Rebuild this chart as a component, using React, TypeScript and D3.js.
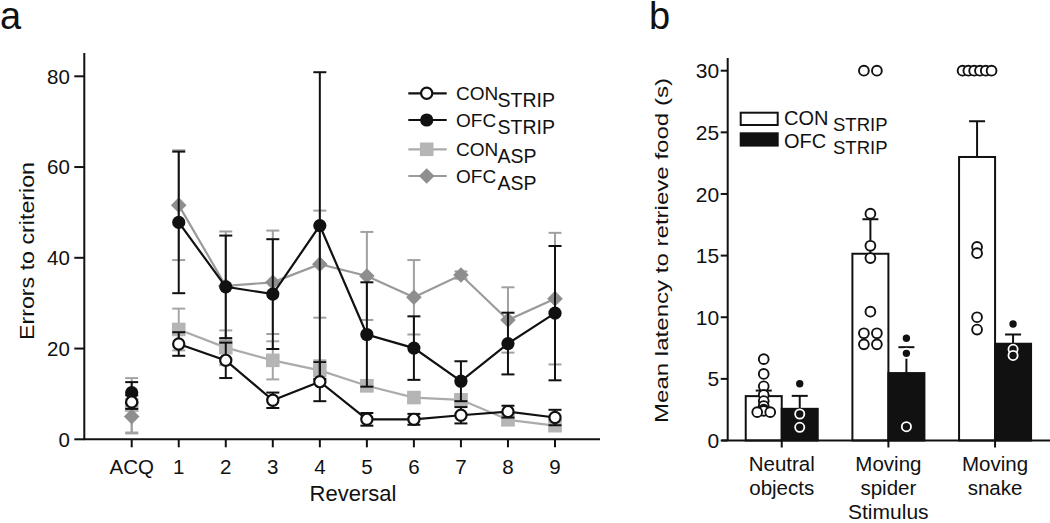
import React from 'react';
import * as d3 from 'd3';

// ---------- Panel a data ----------
const reversalLabels = ["ACQ", "1", "2", "3", "4", "5", "6", "7", "8", "9"];
const conStripMean = [8.2, 21.0, 17.4, 8.6, 12.7, 4.4, 4.4, 5.3, 6.1, 4.8];
const conStripSem = [1.5, 2.6, 3.9, 1.7, 4.3, 1.4, 1.2, 1.8, 1.3, 1.7];
const ofcStripMean = [10.3, 47.8, 33.6, 32.0, 47.1, 23.1, 20.1, 12.8, 21.1, 27.8];
const ofcStripSem = [2.3, 15.6, 11.3, 12.1, 33.8, 11.5, 7.0, 4.4, 6.8, 14.8];
const conAspMean = [7.5, 24.2, 20.2, 17.4, 15.2, 11.8, 9.2, 8.7, 4.3, 3.0];
const conAspSem = [6.0, 4.6, 3.8, 4.2, 2.2, 1.2, 1.0, 1.0, 1.0, 1.0];
const ofcAspMean = [5.0, 51.6, 33.8, 34.6, 38.6, 36.0, 31.3, 36.2, 26.3, 31.0];
const ofcAspSem = [3.7, 12.1, 12.0, 11.4, 11.8, 9.7, 8.2, 0.8, 7.2, 14.5];
const yTicksA = [0, 20, 40, 60, 80];

// ---------- Panel b data ----------
const stimulusLines = [["Neutral", "objects"], ["Moving", "spider"], ["Moving", "snake"]];
const stimulusKeys = ["neutral", "spider", "snake"];
const conMean = [3.6, 15.15, 23.0];
const conSem = [0.45, 2.8, 2.9];
const ofcMean = [2.57, 5.47, 7.85];
const ofcSem = [1.05, 2.1, 0.75];
const conPoints = [
  [6.6, 5.4, 4.4, 3.7, 3.2, 2.8, 2.5, 2.4, 2.3, 2.3],
  [30, 30, 18.4, 15.8, 14.8, 10.45, 8.7, 8.7, 7.8, 7.8],
  [30, 30, 30, 30, 30, 30, 15.7, 15.2, 10.0, 9.0],
];
const ofcPoints = [
  [4.6, 2.15, 1.07],
  [8.3, 7.07, 1.12],
  [9.45, 7.4, 6.9],
];
const yTicksB = [0, 5, 10, 15, 20, 25, 30];

const FONT = "'Liberation Sans', Arial, Helvetica, sans-serif";

function spreadOffsets(vals: number[]): number[] {
  const groups = d3.group(vals.map((v, i) => ({ v, i })), (d) => d.v);
  const off = new Array(vals.length).fill(0);
  groups.forEach((arr) => {
    const n = arr.length;
    const step = n <= 2 ? 13 : 5.8;
    arr.forEach((d, k) => {
      off[d.i] = (k - (n - 1) / 2) * step;
    });
  });
  return off;
}

function diamondPath(x: number, y: number, s: number) {
  return `M${x},${y - s}L${x + s},${y}L${x},${y + s}L${x - s},${y}Z`;
}

export default function App() {
  const W = 1050, H = 523;

  const xA = d3.scalePoint<string>().domain(reversalLabels).range([131.7, 555]);
  const yA = d3.scaleLinear().domain([0, 80]).range([439.3, 76.3]);
  const axisLeftA = 84.3;
  const lineRev = d3.line<number>().x((_, i) => xA(reversalLabels[i + 1])!).y((d) => yA(d));

  type Series = { key: string; mean: number[]; sem: number[]; color: string; errColor: string; marker: string };
  const series: Series[] = [
    { key: "conAsp", mean: conAspMean, sem: conAspSem, color: "#ababab", errColor: "#a6a6a6", marker: "square" },
    { key: "ofcAsp", mean: ofcAspMean, sem: ofcAspSem, color: "#9a9a9a", errColor: "#a0a0a0", marker: "diamond" },
    { key: "ofcStrip", mean: ofcStripMean, sem: ofcStripSem, color: "#111", errColor: "#111", marker: "circleFilled" },
    { key: "conStrip", mean: conStripMean, sem: conStripSem, color: "#111", errColor: "#111", marker: "circleOpen" },
  ];

  const marker = (type: string, x: number, y: number, key: string) => {
    if (type === "square") return <rect key={key} x={x - 6.8} y={y - 6.8} width={13.6} height={13.6} fill="#b5b5b5" />;
    if (type === "diamond") return <path key={key} d={diamondPath(x, y, 7.8)} fill="#8e8e8e" />;
    if (type === "circleFilled") return <circle key={key} cx={x} cy={y} r={6.6} fill="#111" />;
    return <circle key={key} cx={x} cy={y} r={5.6} fill="#fff" stroke="#111" strokeWidth={2.2} />;
  };

  const xB = d3.scaleBand<string>().domain(stimulusKeys).range([728.4, 1048.4]).padding(0);
  const yB = d3.scaleLinear().domain([0, 30]).range([440.5, 70.7]);
  const barW = 36;
  const axisLeftB = 727.7;

  const legendA = [
    { main: "CON", sub: "STRIP", type: "circleOpen", color: "#111", y: 93.3 },
    { main: "OFC", sub: "STRIP", type: "circleFilled", color: "#111", y: 120 },
    { main: "CON", sub: "ASP", type: "square", color: "#ababab", y: 149.3 },
    { main: "OFC", sub: "ASP", type: "diamond", color: "#9a9a9a", y: 176 },
  ];

  return (
    <svg width={W} height={H} style={{ position: "absolute", left: 0, top: 0, display: "block", background: "#fff" }} fontFamily={FONT}>
      <rect x={0} y={0} width={W} height={H} fill="#fff" />
      {/* ================= Panel a ================= */}
      <text x={0} y={29} fontSize={38} fill="#111">a</text>
      <line x1={axisLeftA} x2={axisLeftA} y1={53} y2={yA(0)} stroke="#111" strokeWidth={2} />
      {yTicksA.map((t) => (
        <g key={t}>
          <line x1={axisLeftA - 10} x2={axisLeftA} y1={yA(t)} y2={yA(t)} stroke="#111" strokeWidth={2} />
          <text x={axisLeftA - 14.5} y={yA(t)} dy="0.36em" textAnchor="end" fontSize={20.5} fill="#111">{t}</text>
        </g>
      ))}
      <line x1={axisLeftA - 1} x2={600} y1={yA(0)} y2={yA(0)} stroke="#111" strokeWidth={2} />
      {reversalLabels.map((l) => (
        <g key={l}>
          <line x1={xA(l)} x2={xA(l)} y1={yA(0)} y2={yA(0) + 8} stroke="#111" strokeWidth={2} />
          <text x={xA(l)} y={473.5} textAnchor="middle" fontSize={20.5} fill="#111">{l}</text>
        </g>
      ))}
      <text x={353} y={501} textAnchor="middle" fontSize={22} fill="#111">Reversal</text>
      <text transform={`translate(34,251) rotate(-90)`} textAnchor="middle" fontSize={21} textLength={178} lengthAdjust="spacingAndGlyphs" fill="#111">Errors to criterion</text>

      {series.map((s) => (
        <g key={s.key}>
          {s.mean.map((m, i) => {
            const x = xA(reversalLabels[i])!;
            const hi = yA(m + s.sem[i]);
            const lo = yA(Math.max(0, m - s.sem[i]));
            return (
              <g key={i}>
                <line x1={x} x2={x} y1={hi} y2={lo} stroke={s.errColor} strokeWidth={2} />
                <line x1={x - 6.5} x2={x + 6.5} y1={hi} y2={hi} stroke={s.errColor} strokeWidth={2} />
                <line x1={x - 6.5} x2={x + 6.5} y1={lo} y2={lo} stroke={s.errColor} strokeWidth={2} />
              </g>
            );
          })}
          <path d={lineRev(s.mean.slice(1)) || ""} fill="none" stroke={s.color} strokeWidth={2.2} />
          {s.mean.map((m, i) => marker(s.marker, xA(reversalLabels[i])!, yA(m), s.key + i))}
        </g>
      ))}

      {legendA.map((l) => (
        <g key={l.main + l.sub}>
          <line x1={408.3} x2={446.7} y1={l.y} y2={l.y} stroke={l.color} strokeWidth={2.2} />
          {marker(l.type, 426.7, l.y, "lg" + l.main + l.sub)}
          <text x={456} y={l.y + 6.5} fontSize={19} fill="#111">{l.main}</text>
          <text x={497.5} y={l.y + 13.5} fontSize={19.5} fill="#111">{l.sub}</text>
        </g>
      ))}

      {/* ================= Panel b ================= */}
      <text x={649} y={29} fontSize={38} fill="#111">b</text>
      {stimulusKeys.map((k, i) => {
        const c = xB(k)! + xB.bandwidth() / 2;
        return (
          <g key={k}>
            <rect x={c - barW} y={yB(conMean[i])} width={barW} height={yB(0) - yB(conMean[i])} fill="#fff" stroke="#111" strokeWidth={2} />
            <rect x={c} y={yB(ofcMean[i])} width={barW} height={yB(0) - yB(ofcMean[i])} fill="#111" stroke="#111" strokeWidth={2} />
            <line x1={c - barW / 2} x2={c - barW / 2} y1={yB(conMean[i])} y2={yB(conMean[i] + conSem[i])} stroke="#111" strokeWidth={2} />
            <line x1={c - barW / 2 - 8} x2={c - barW / 2 + 8} y1={yB(conMean[i] + conSem[i])} y2={yB(conMean[i] + conSem[i])} stroke="#111" strokeWidth={2} />
            <line x1={c + barW / 2} x2={c + barW / 2} y1={yB(ofcMean[i])} y2={yB(ofcMean[i] + ofcSem[i])} stroke="#111" strokeWidth={2} />
            <line x1={c + barW / 2 - 8} x2={c + barW / 2 + 8} y1={yB(ofcMean[i] + ofcSem[i])} y2={yB(ofcMean[i] + ofcSem[i])} stroke="#111" strokeWidth={2} />
            {(() => {
              const off = spreadOffsets(conPoints[i]);
              return conPoints[i].map((v, j) => (
                <circle key={"c" + j} cx={c - barW / 2 + off[j]} cy={yB(v)} r={4.9} fill="#fff" stroke="#111" strokeWidth={1.9} />
              ));
            })()}
            {ofcPoints[i].map((v, j) => (
              <circle key={"o" + j} cx={c + barW / 2} cy={yB(v)} r={4.6} fill="#111" stroke="#fff" strokeWidth={1.8} />
            ))}
          </g>
        );
      })}
      <line x1={axisLeftB} x2={axisLeftB} y1={58} y2={yB(0)} stroke="#111" strokeWidth={2} />
      {yTicksB.map((t) => (
        <g key={t}>
          <line x1={axisLeftB - 7} x2={axisLeftB} y1={yB(t)} y2={yB(t)} stroke="#111" strokeWidth={2} />
          <text x={axisLeftB - 8.5} y={yB(t)} dy="0.36em" textAnchor="end" fontSize={21} fill="#111">{t}</text>
        </g>
      ))}
      <line x1={721.7} x2={1050} y1={yB(0)} y2={yB(0)} stroke="#111" strokeWidth={2} />
      {stimulusKeys.map((k, i) => {
        const c = xB(k)! + xB.bandwidth() / 2;
        return (
          <g key={k}>
            <line x1={c} x2={c} y1={yB(0)} y2={yB(0) + 7} stroke="#111" strokeWidth={2} />
            <text x={c} y={471} textAnchor="middle" fontSize={20.5} fill="#111">{stimulusLines[i][0]}</text>
            <text x={c} y={495} textAnchor="middle" fontSize={20.5} fill="#111">{stimulusLines[i][1]}</text>
          </g>
        );
      })}
      <text x={888.3} y={518.5} textAnchor="middle" fontSize={21} fill="#111">Stimulus</text>
      <text transform={`translate(668,250.5) rotate(-90)`} textAnchor="middle" fontSize={19} textLength={345} lengthAdjust="spacingAndGlyphs" fill="#111">Mean latency to retrieve food (s)</text>

      <rect x={740.7} y={112.7} width={37} height={12.3} fill="#fff" stroke="#111" strokeWidth={2} />
      <rect x={740.7} y={133.3} width={37} height={12.3} fill="#111" stroke="#111" strokeWidth={2} />
      <text x={784} y={125} fontSize={20} fill="#111">CON</text>
      <text x={833} y={131} fontSize={18.5} fill="#111">STRIP</text>
      <text x={784} y={148} fontSize={20} fill="#111">OFC</text>
      <text x={833} y={154} fontSize={18.5} fill="#111">STRIP</text>
    </svg>
  );
}
